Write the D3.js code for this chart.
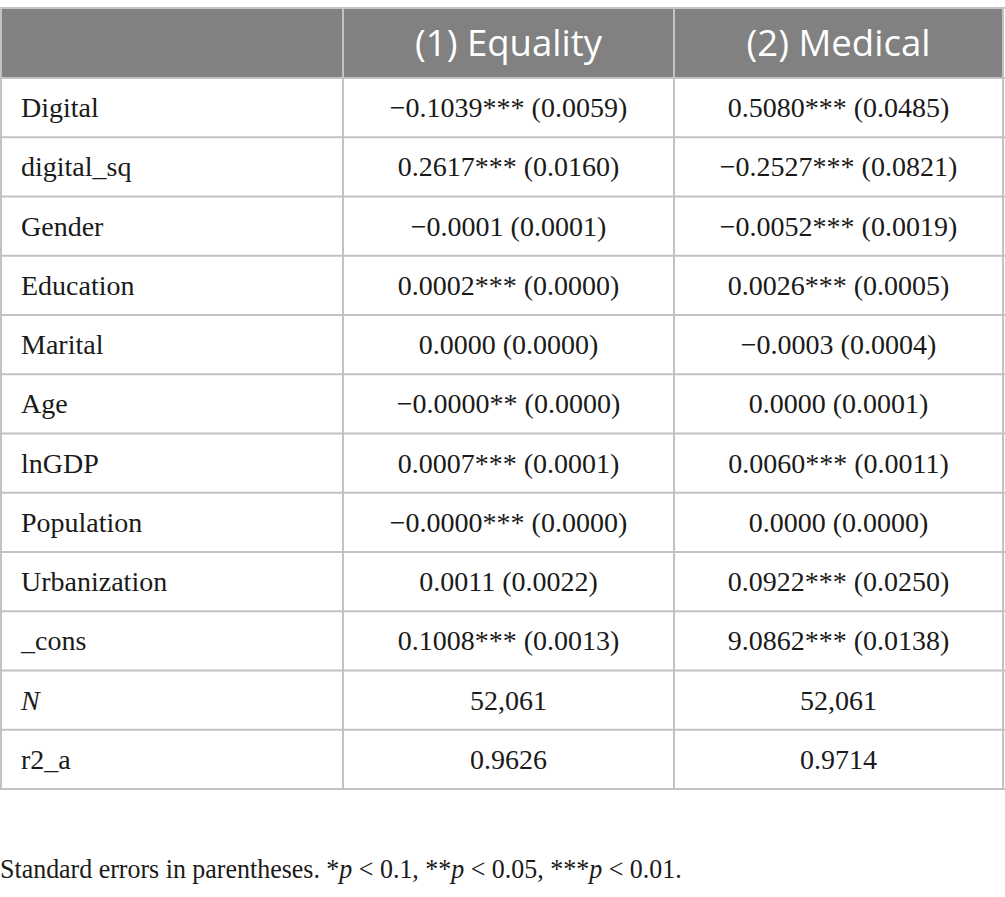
<!DOCTYPE html>
<html>
<head>
<meta charset="utf-8">
<script src="https://cdn.jsdelivr.net/npm/d3@7"></script>
<style>
  html, body { margin: 0; padding: 0; background: #fff; }
  svg { display: block; }
</style>
</head>
<body>
<svg id="chart" width="1005" height="897"></svg>
<script>
// table content
var headers = ["", "(1) Equality", "(2) Medical"];
var rowLabels = ["Digital", "digital_sq", "Gender", "Education", "Marital", "Age",
    "lnGDP", "Population", "Urbanization", "_cons", "N", "r2_a"];
var italicLabels = ["N"];
var equality = ["\u22120.1039*** (0.0059)", "0.2617*** (0.0160)", "\u22120.0001 (0.0001)",
    "0.0002*** (0.0000)", "0.0000 (0.0000)", "\u22120.0000** (0.0000)", "0.0007*** (0.0001)",
    "\u22120.0000*** (0.0000)", "0.0011 (0.0022)", "0.1008*** (0.0013)", "52,061", "0.9626"];
var medical = ["0.5080*** (0.0485)", "\u22120.2527*** (0.0821)", "\u22120.0052*** (0.0019)",
    "0.0026*** (0.0005)", "\u22120.0003 (0.0004)", "0.0000 (0.0001)", "0.0060*** (0.0011)",
    "0.0000 (0.0000)", "0.0922*** (0.0250)", "9.0862*** (0.0138)", "52,061", "0.9714"];
var noteParts = [
    {t: "Standard errors in parentheses. *", i: false}, {t: "p", i: true}, {t: " < 0.1, **", i: false},
    {t: "p", i: true}, {t: " < 0.05, ***", i: false}, {t: "p", i: true}, {t: " < 0.01.", i: false}
];

(function () {
    var svg = d3.select("#chart");
    var W = 1005,
        tableTop = 8, headH = 70, bodyBottom = 789,
        colEdges = [1, 343, 674, 1003],
        lineColor = "#c2c2c2",
        serif = "'Liberation Serif', 'Times New Roman', serif",
        sans = "'Open Sans', 'Noto Sans', sans-serif";

    var y = d3.scaleBand().domain(rowLabels).range([tableTop + headH, bodyBottom]);
    var colCenter = function (i) { return (colEdges[i] + colEdges[i + 1]) / 2; };

    // header band
    svg.append("rect")
        .attr("x", colEdges[0]).attr("y", tableTop)
        .attr("width", colEdges[3] - colEdges[0]).attr("height", headH)
        .attr("fill", "#808180");

    var head = svg.append("g").selectAll("text")
        .data(headers.slice(1))
        .enter().append("text")
        .attr("x", function (d, i) { return colCenter(i + 1); })
        .attr("y", tableTop + headH / 2)
        .attr("dy", "0.36em")
        .attr("text-anchor", "middle")
        .attr("fill", "#fff")
        .style("font-family", sans)
        .style("font-size", "30px")
        .text(function (d) { return d; });
    // fit header text to the width seen in the reference
    var hw = head.node().getComputedTextLength();
    head.style("font-size", (30 * 187 / hw).toFixed(2) + "px");

    // body rows
    var rows = svg.append("g").selectAll("g")
        .data(rowLabels)
        .enter().append("g")
        .attr("transform", function (d) { return "translate(0," + y(d) + ")"; });

    rows.append("text")
        .attr("x", 21)
        .attr("y", y.bandwidth() / 2)
        .attr("dy", "0.34em")
        .style("font-family", serif)
        .style("font-size", "28px")
        .style("font-style", function (d) { return italicLabels.indexOf(d) >= 0 ? "italic" : null; })
        .attr("fill", "#1a1a1a")
        .text(function (d) { return d; });

    [equality, medical].forEach(function (vals, c) {
        rows.append("text")
            .attr("x", colCenter(c + 1))
            .attr("y", y.bandwidth() / 2)
            .attr("dy", "0.34em")
            .attr("text-anchor", "middle")
            .style("font-family", serif)
            .style("font-size", "28px")
            .attr("fill", "#1a1a1a")
            .text(function (d, i) { return vals[i]; });
    });

    // grid lines
    var grid = svg.append("g")
        .attr("stroke", lineColor)
        .attr("stroke-width", 2)
        .attr("fill", "none");
    grid.append("line")
        .attr("x1", 0).attr("x2", W).attr("y1", tableTop).attr("y2", tableTop);
    grid.selectAll("line.h")
        .data(rowLabels)
        .enter().append("line")
        .attr("class", "h")
        .attr("x1", 0).attr("x2", W)
        .attr("y1", function (d) { return y(d); })
        .attr("y2", function (d) { return y(d); });
    grid.append("line")
        .attr("x1", 0).attr("x2", W).attr("y1", bodyBottom).attr("y2", bodyBottom);
    grid.selectAll("line.v")
        .data(colEdges)
        .enter().append("line")
        .attr("class", "v")
        .attr("x1", function (d) { return d; }).attr("x2", function (d) { return d; })
        .attr("y1", tableTop).attr("y2", bodyBottom);

    // footnote, fitted to the width it has in the reference
    var noteG = svg.append("g");
    var note = noteG.append("text")
        .attr("x", 0)
        .attr("y", 0)
        .style("font-family", serif)
        .style("font-size", "28px")
        .attr("fill", "#1a1a1a");
    note.selectAll("tspan")
        .data(noteParts)
        .enter().append("tspan")
        .style("font-style", function (d) { return d.i ? "italic" : null; })
        .text(function (d) { return d.t; });
    var nw = note.node().getComputedTextLength();
    noteG.attr("transform", "translate(0,878) scale(" + (682 / nw).toFixed(4) + ",1)");
})();
</script>
</body>
</html>
